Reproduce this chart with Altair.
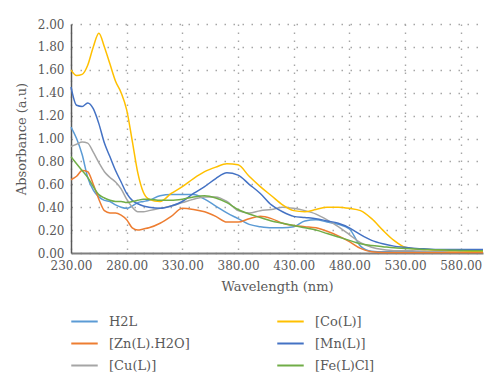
import altair as alt
import pandas as pd

wl = [230, 235, 240, 245, 250, 255, 260, 265, 270, 275, 280, 285, 290, 295, 300,
      310, 320, 330, 340, 350, 360, 370, 380, 390, 400, 410, 420, 430, 440, 450,
      460, 470, 480, 490, 500, 510, 520, 530, 540, 550, 560, 570, 580, 590, 600]

h2l = [1.10, 1.00, 0.86, 0.66, 0.55, 0.49, 0.46, 0.45, 0.42, 0.40, 0.39, 0.41, 0.44, 0.45, 0.46,
       0.50, 0.51, 0.51, 0.51, 0.47, 0.41, 0.35, 0.30, 0.25, 0.23, 0.22, 0.22, 0.23, 0.28, 0.29,
       0.27, 0.25, 0.21, 0.06, 0.015, 0.01, 0.01, 0.01, 0.01, 0.01, 0.01, 0.01, 0.01, 0.01, 0.01]
zn = [0.64, 0.67, 0.72, 0.71, 0.60, 0.47, 0.37, 0.35, 0.35, 0.33, 0.29, 0.22, 0.20, 0.21, 0.22,
      0.26, 0.32, 0.39, 0.38, 0.36, 0.32, 0.27, 0.27, 0.30, 0.32, 0.30, 0.26, 0.24, 0.23, 0.22,
      0.19, 0.15, 0.10, 0.04, 0.01, 0.005, 0.005, 0.005, 0.005, 0.005, 0.005, 0.005, 0.005, 0.005, 0.005]
cu = [0.93, 0.95, 0.97, 0.96, 0.88, 0.79, 0.71, 0.66, 0.62, 0.56, 0.47, 0.40, 0.36, 0.36, 0.37,
      0.39, 0.41, 0.44, 0.47, 0.49, 0.49, 0.45, 0.37, 0.35, 0.37, 0.38, 0.40, 0.39, 0.37, 0.34,
      0.29, 0.23, 0.16, 0.09, 0.05, 0.03, 0.02, 0.02, 0.018, 0.016, 0.015, 0.015, 0.015, 0.015, 0.015]
co = [1.60, 1.55, 1.56, 1.64, 1.80, 1.92, 1.80, 1.65, 1.50, 1.40, 1.25, 0.98, 0.70, 0.53, 0.47,
      0.45, 0.52, 0.58, 0.65, 0.71, 0.75, 0.78, 0.77, 0.67, 0.58, 0.50, 0.42, 0.37, 0.36, 0.38,
      0.40, 0.40, 0.39, 0.37, 0.30, 0.20, 0.11, 0.05, 0.035, 0.03, 0.025, 0.02, 0.02, 0.015, 0.015]
mn = [1.45, 1.29, 1.28, 1.31, 1.26, 1.13, 0.96, 0.84, 0.72, 0.62, 0.52, 0.46, 0.43, 0.41, 0.40,
      0.39, 0.41, 0.45, 0.52, 0.58, 0.65, 0.70, 0.68, 0.60, 0.52, 0.42, 0.36, 0.32, 0.31, 0.30,
      0.28, 0.26, 0.22, 0.16, 0.11, 0.08, 0.06, 0.05, 0.04, 0.035, 0.03, 0.03, 0.03, 0.03, 0.03]
fe = [0.84, 0.78, 0.72, 0.66, 0.58, 0.51, 0.48, 0.46, 0.45, 0.45, 0.44, 0.45, 0.46, 0.47, 0.47,
      0.46, 0.46, 0.47, 0.49, 0.50, 0.48, 0.44, 0.38, 0.34, 0.31, 0.28, 0.26, 0.24, 0.22, 0.20,
      0.17, 0.14, 0.11, 0.08, 0.065, 0.055, 0.045, 0.04, 0.035, 0.03, 0.028, 0.025, 0.022, 0.02, 0.02]

names1 = ["H2L", "[Zn(L).H2O]", "[Cu(L)]"]
names2 = ["[Co(L)]", "[Mn(L)]", "[Fe(L)Cl]"]
colors1 = ["#5B9BD5", "#ED7D31", "#A5A5A5"]
colors2 = ["#FFC000", "#4472C4", "#70AD47"]

x_ticks = [230, 280, 330, 380, 430, 480, 530, 580]
y_ticks = [0, 0.2, 0.4, 0.6, 0.8, 1.0, 1.2, 1.4, 1.6, 1.8, 2.0]


def frame(names, series):
    rows = []
    for n, vals in zip(names, series):
        for w, v in zip(wl, vals):
            rows.append({"wl": w, "A": v, "series": n})
    return pd.DataFrame(rows)


df1 = frame(names1, [h2l, zn, cu])
df2 = frame(names2, [co, mn, fe])

FONT = "DejaVu Serif"
TXT = "#595959"
GRID = "#a6a6a6"

x_enc = alt.X("wl:Q",
              scale=alt.Scale(domain=[230, 600], nice=False, zero=False),
              axis=alt.Axis(values=x_ticks, format=".2f", title="Wavelength (nm)",
                            ticks=False, labelPadding=7, titlePadding=9,
                            labelOverlap=False, labelFlush=False,
                            domainColor="#7f7f7f", domainWidth=2,
                            grid=True, gridColor=GRID, gridDash=[1.5, 6.5], gridWidth=1.4))
y_enc = alt.Y("A:Q",
              scale=alt.Scale(domain=[0, 2], nice=False),
              axis=alt.Axis(values=y_ticks, format=".2f", title="Absorbance (a.u)",
                            ticks=False, labelPadding=7, titlePadding=9,
                            labelOverlap=False, labelFlush=False,
                            domainColor="#595959", domainWidth=1.5,
                            grid=True, gridColor=GRID, gridDash=[1.5, 7.5], gridWidth=1.4))


def legend(lx, ly):
    return alt.Legend(orient="none", legendX=lx, legendY=ly, title=None,
                      symbolType="stroke", symbolSize=700, symbolStrokeWidth=2,
                      labelFont=FONT, labelFontSize=13, labelColor=TXT,
                      labelOffset=10, rowPadding=0)


l1 = alt.Chart(df1).mark_line(strokeWidth=1.5, interpolate="monotone").encode(
    x=x_enc, y=y_enc,
    color=alt.Color("series:N", scale=alt.Scale(domain=names1, range=colors1),
                    legend=legend(-1, 283), sort=names1))
l2 = alt.Chart(df2).mark_line(strokeWidth=1.5, interpolate="monotone").encode(
    x=x_enc, y=y_enc,
    color=alt.Color("series:N", scale=alt.Scale(domain=names2, range=colors2),
                    legend=legend(205, 283), sort=names2))

chart = alt.layer(l1, l2).resolve_scale(color="independent").properties(
    width=412, height=229,
    autosize=alt.AutoSizeParams(type="none"),
    padding={"left": 63, "top": 16, "right": 5, "bottom": 140},
).configure_axis(
    labelFont=FONT, labelFontSize=12, labelColor=TXT,
    titleFont=FONT, titleFontSize=13, titleColor=TXT, titleFontWeight="normal",
).configure_view(stroke=None)

chart.save("out.html", embed_options={"renderer": "svg", "actions": False})
